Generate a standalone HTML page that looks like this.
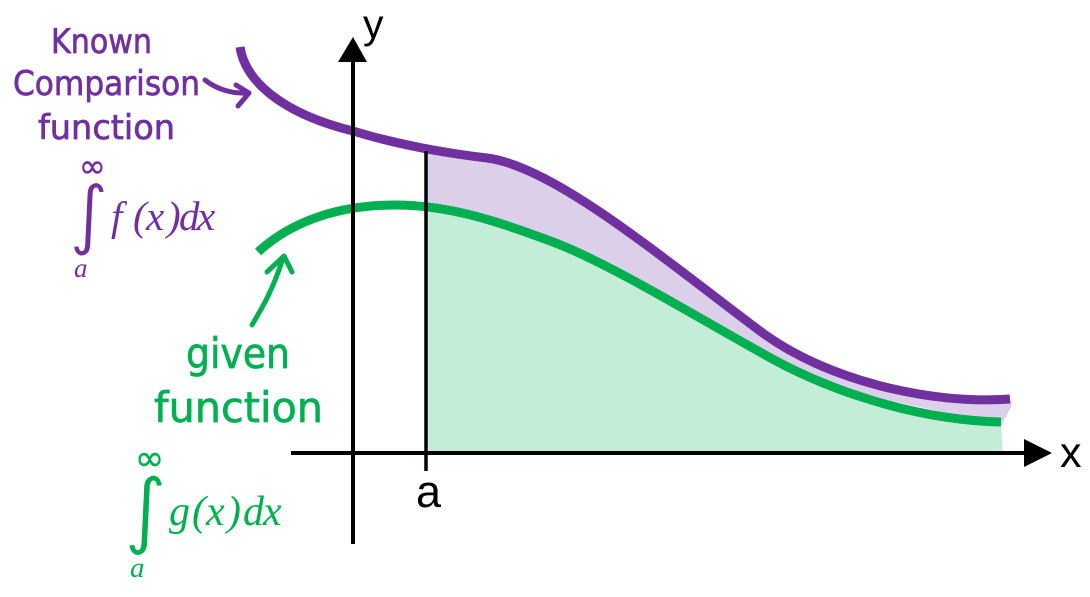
<!DOCTYPE html>
<html>
<head>
<meta charset="utf-8">
<style>
html,body{margin:0;padding:0;background:#fff;}
svg{display:block;}
.hand{font-family:"DejaVu Sans","Liberation Sans",sans-serif;}
.math{font-family:"Liberation Serif",serif;font-style:italic;}
.sym{font-family:"DejaVu Sans",sans-serif;font-style:normal;}
.ar{font-family:"Liberation Sans",sans-serif;}
</style>
</head>
<body>
<svg width="1090" height="597" viewBox="0 0 1090 597" xmlns="http://www.w3.org/2000/svg">
<path d="M427 149 C445 153 470 155 487 158 C552 166 655 252 760 331 C825 380 930 405 1010 399 L1012 405 L1002 425 L427 300 Z" fill="#dccfe9"/>
<path d="M427 206 C470 210 510 225 553 242 C610 263.5 700 319 760 352 C825 390 915 420 1001 422 L1003 453 L427 453 Z" fill="#c3edd6"/>
<path d="M240 47 C245 80 280 113 353 131 C395 144 445 153 487 158 C552 166 655 252 760 331 C825 380 930 405 1010 399" fill="none" stroke="#7030a0" stroke-width="9"/>
<path d="M258 252 C295 218 345 205 395 205 C450 205 500 222 553 242 C610 263.5 700 319 760 352 C825 390 915 420 1001 422" fill="none" stroke="#00b050" stroke-width="9"/>
<line x1="353" y1="60" x2="353" y2="544" stroke="#000" stroke-width="4"/>
<polygon points="353,37 338,62 367,62" fill="#000"/>
<line x1="291" y1="453" x2="1030" y2="453" stroke="#000" stroke-width="4"/>
<polygon points="1052,453 1024,439 1024,467" fill="#000"/>
<line x1="426" y1="151" x2="426" y2="471" stroke="#000" stroke-width="3.5"/>
<text x="363" y="38" class="ar" font-size="41">y</text>
<text x="1060" y="467" class="ar" font-size="43">x</text>
<text x="416" y="507" class="ar" font-size="45">a</text>
<g class="hand" fill="#7030a0" stroke="#7030a0" stroke-width="0.7" font-size="34">
<text x="51" y="53" textLength="101" lengthAdjust="spacingAndGlyphs">Known</text>
<text x="13" y="95" textLength="187" lengthAdjust="spacingAndGlyphs">Comparison</text>
<text x="38" y="139" textLength="137" lengthAdjust="spacingAndGlyphs">function</text>
</g>
<path d="M205 80 C215 88 230 94 248 93 M236 85 L249 93 L238 106" fill="none" stroke="#7030a0" stroke-width="5" stroke-linecap="round" stroke-linejoin="round"/>
<path d="M252 325 C262 308 273 290 283 258 M267 272 L284 256 L292 272" fill="none" stroke="#00b050" stroke-width="5" stroke-linecap="round" stroke-linejoin="round"/>
<g class="hand" fill="#00b050" stroke="#00b050" stroke-width="0.7" font-size="42">
<text x="186" y="368" textLength="104" lengthAdjust="spacingAndGlyphs">given</text>
<text x="154" y="422" textLength="169" lengthAdjust="spacingAndGlyphs">function</text>
</g>
<g fill="#7030a0">
<text x="69" y="240" font-size="76" class="sym" stroke="#fff" stroke-width="1.2">∫</text>
<text x="79" y="177" font-size="32" class="sym" stroke="#7030a0" stroke-width="0.5">∞</text>
<text x="74" y="277" font-size="27" class="math">a</text>
<text x="111 133 146 167 179 197" y="230" font-size="41" class="math">f(x)dx</text>
</g>
<g fill="#00b050">
<text x="124" y="538" font-size="83" class="sym" stroke="#fff" stroke-width="1.2">∫</text>
<text x="135" y="470" font-size="35" class="sym" stroke="#00b050" stroke-width="0.5">∞</text>
<text x="130" y="577" font-size="29" class="math">a</text>
<text x="169 192 206 227 243 263" y="525" font-size="42" class="math">g(x)dx</text>
</g>
</svg>
</body>
</html>
